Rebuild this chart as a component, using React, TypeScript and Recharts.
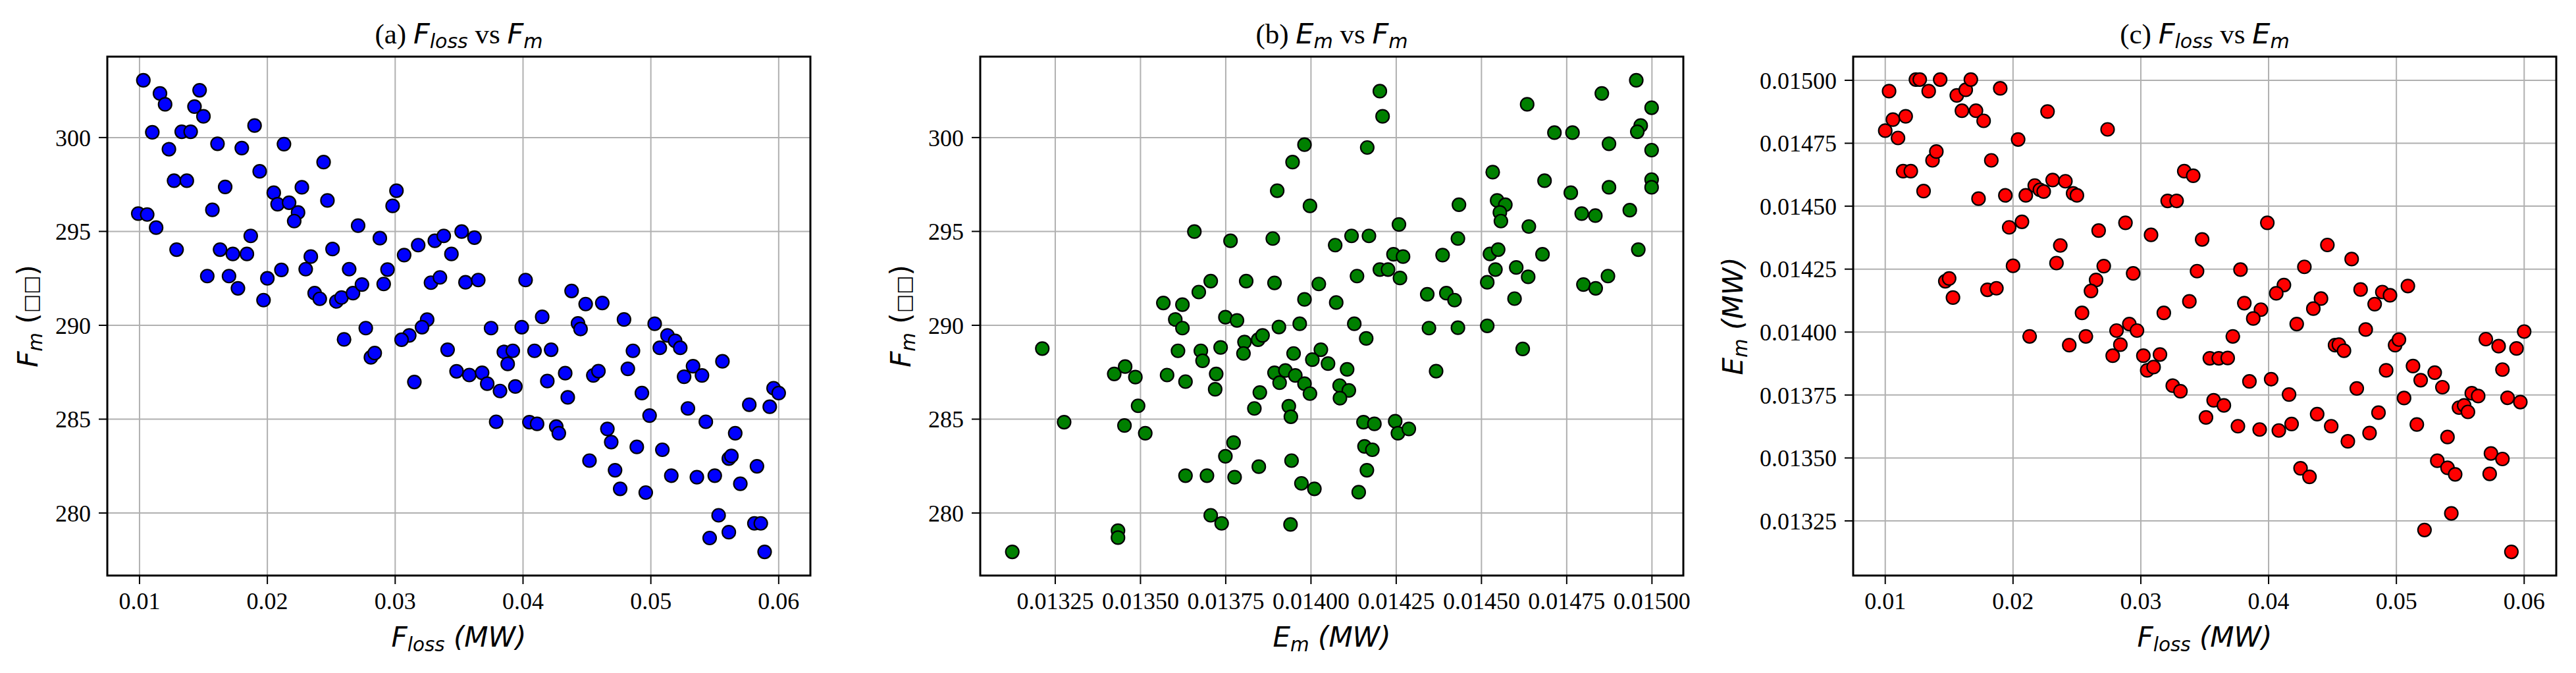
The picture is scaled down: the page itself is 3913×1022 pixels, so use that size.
import React from 'react'
import { ScatterChart, Scatter, XAxis, YAxis, CartesianGrid, ReferenceArea } from 'recharts'

// (a) F_loss vs F_m
const aFloss = [
  0.0103, 0.0116, 0.0120, 0.0147, 0.0143, 0.0150, 0.0110, 0.0133, 0.0140, 0.0123,
  0.0161, 0.0180, 0.0190, 0.0213, 0.0194, 0.0127, 0.0137, 0.0167, 0.0244, 0.0227,
  0.0205, 0.0208, 0.0217, 0.0224, 0.0221, 0.0247, 0.0301, 0.0298, 0.0099, 0.0106,
  0.0113, 0.0157, 0.0187, 0.0271, 0.0288, 0.0129, 0.0163, 0.0173, 0.0184, 0.0234,
  0.0251, 0.0307, 0.0318, 0.0331, 0.0338, 0.0352, 0.0362, 0.0344, 0.0153, 0.0170,
  0.0177, 0.0200, 0.0211, 0.0230, 0.0264, 0.0294, 0.0197, 0.0237, 0.0241, 0.0254,
  0.0258, 0.0267, 0.0274, 0.0291, 0.0328, 0.0335, 0.0355, 0.0365, 0.0402, 0.0438,
  0.0449, 0.0462, 0.0415, 0.0479, 0.0503, 0.0277, 0.0375, 0.0399, 0.0443, 0.0445,
  0.0325, 0.0321, 0.0311, 0.0305, 0.0260, 0.0513, 0.0519, 0.0523, 0.0507, 0.0341,
  0.0281, 0.0284, 0.0385, 0.0392, 0.0388, 0.0409, 0.0422, 0.0486, 0.0482, 0.0556,
  0.0348, 0.0358, 0.0368, 0.0372, 0.0382, 0.0394, 0.0315, 0.0419, 0.0433, 0.0435,
  0.0455, 0.0459, 0.0493, 0.0526, 0.0533, 0.0540, 0.0529, 0.0577, 0.0593, 0.0596,
  0.0600, 0.0379, 0.0405, 0.0411, 0.0426, 0.0428, 0.0499, 0.0543, 0.0466, 0.0469,
  0.0489, 0.0509, 0.0566, 0.0452, 0.0472, 0.0516, 0.0536, 0.0550, 0.0561, 0.0563,
  0.0583, 0.0570, 0.0476, 0.0496, 0.0553, 0.0546, 0.0561, 0.0581, 0.0586, 0.0589,
]
const aFm = [
  303.05, 302.35, 301.77, 302.52, 301.65, 301.13, 300.28, 300.31, 300.31, 299.38,
  299.67, 299.44, 300.64, 299.65, 298.20, 297.70, 297.70, 297.37, 298.69, 297.35,
  297.06, 296.45, 296.53, 296.01, 295.55, 296.65, 297.17, 296.36, 295.95, 295.90,
  295.20, 296.15, 294.76, 295.31, 294.64, 294.03, 294.03, 293.80, 293.80, 293.66,
  294.06, 293.74, 294.27, 294.50, 294.76, 294.99, 294.67, 293.80, 292.62, 292.62,
  291.97, 292.50, 292.95, 292.99, 292.99, 292.97, 291.34, 291.71, 291.41, 291.27,
  291.48, 291.71, 292.17, 292.20, 292.27, 292.55, 292.29, 292.41, 292.41, 291.83,
  291.13, 291.19, 290.45, 290.31, 290.08, 289.85, 289.85, 289.90, 290.10, 289.80,
  290.30, 289.90, 289.46, 289.23, 289.25, 289.46, 289.17, 288.80, 288.80, 288.70,
  288.29, 288.52, 288.58, 288.64, 287.94, 288.64, 288.70, 288.64, 287.68, 288.08,
  287.55, 287.35, 287.47, 286.89, 286.50, 286.74, 286.98, 287.03, 287.45, 286.16,
  287.33, 287.56, 286.39, 287.26, 287.82, 287.33, 285.57, 285.77, 285.66, 286.65,
  286.39, 284.86, 284.84, 284.75, 284.60, 284.25, 285.19, 284.86, 284.48, 283.78,
  283.52, 283.37, 284.25, 282.79, 282.28, 281.99, 281.91, 281.99, 282.90, 283.04,
  282.49, 281.56, 281.29, 281.09, 279.88, 278.67, 278.98, 279.45, 279.45, 277.93,
]

// (b) E_m vs F_m
const bEm = [
  0.014954, 0.014853, 0.014202, 0.014210, 0.014634, 0.014999, 0.014967, 0.014957, 0.014714, 0.014767,
  0.014874, 0.014999, 0.013981, 0.014165, 0.013946, 0.014533, 0.014685, 0.014874, 0.014999, 0.014999,
  0.013901, 0.014762, 0.013997, 0.014434, 0.014546, 0.014570, 0.014554, 0.014557, 0.014794, 0.014834,
  0.014935, 0.014639, 0.014258, 0.013658, 0.013764, 0.013888, 0.014071, 0.014119, 0.014170, 0.014431,
  0.014960, 0.014242, 0.014270, 0.014386, 0.014525, 0.014549, 0.014679, 0.014202, 0.014226, 0.014261,
  0.014135, 0.014541, 0.014602, 0.014637, 0.014517, 0.014871, 0.014799, 0.014835, 0.013706, 0.013810,
  0.013893, 0.014023, 0.013671, 0.013567, 0.013623, 0.013981, 0.014074, 0.014341, 0.014397, 0.014421,
  0.014597, 0.013749, 0.013783, 0.013602, 0.013623, 0.013906, 0.013967, 0.014127, 0.014346, 0.014431,
  0.014517, 0.014162, 0.013212, 0.013610, 0.013677, 0.013682, 0.013735, 0.013805, 0.013802, 0.013845,
  0.013858, 0.013949, 0.014029, 0.014004, 0.014050, 0.014106, 0.014621, 0.014367, 0.013423, 0.013455,
  0.013485, 0.013578, 0.013632, 0.013722, 0.013719, 0.013893, 0.013925, 0.013908, 0.013954, 0.013981,
  0.013997, 0.013850, 0.014084, 0.014111, 0.014085, 0.013493, 0.013834, 0.013935, 0.013941, 0.013276,
  0.013453, 0.013514, 0.014154, 0.014186, 0.014247, 0.014255, 0.014287, 0.013773, 0.013749, 0.014157,
  0.014180, 0.014164, 0.013847, 0.013943, 0.013632, 0.013695, 0.013776, 0.013972, 0.014010, 0.014140,
  0.013706, 0.013738, 0.013940, 0.013434, 0.013434, 0.013124,
]
const bFm = [
  303.05, 302.35, 302.47, 301.13, 301.77, 301.59, 300.64, 300.31, 300.26, 300.26,
  299.67, 299.33, 299.62, 299.47, 298.69, 298.16, 297.70, 297.35, 297.76, 297.35,
  297.17, 297.06, 296.36, 296.42, 296.65, 296.42, 296.01, 295.55, 295.95, 295.84,
  296.13, 295.26, 295.37, 294.99, 294.50, 294.62, 294.27, 294.76, 294.76, 294.62,
  294.03, 293.78, 293.66, 293.74, 293.80, 294.03, 293.78, 292.97, 292.97, 292.52,
  292.62, 292.97, 293.08, 292.58, 292.29, 292.62, 292.17, 291.97, 292.35, 292.35,
  292.26, 292.20, 291.77, 291.19, 291.10, 291.38, 291.21, 291.65, 291.71, 291.34,
  291.42, 290.43, 290.26, 290.31, 289.85, 289.91, 290.08, 290.08, 289.85, 289.87,
  289.97, 289.30, 288.76, 288.64, 288.64, 288.11, 288.82, 289.11, 288.50, 289.23,
  289.46, 288.50, 288.70, 288.17, 287.96, 287.65, 288.74, 287.56, 287.41, 287.80,
  287.24, 287.35, 287.00, 287.41, 286.59, 287.47, 287.59, 286.94, 287.33, 286.89,
  286.36, 286.42, 286.79, 286.53, 286.12, 285.71, 285.57, 285.69, 285.13, 284.84,
  284.66, 284.25, 284.84, 284.75, 284.89, 284.25, 284.48, 283.75, 283.02, 283.55,
  283.37, 282.28, 282.47, 282.79, 281.99, 281.99, 281.91, 281.58, 281.29, 281.11,
  279.88, 279.45, 279.39, 279.06, 278.69, 277.93,
]

// (c) F_loss vs E_m
const cFloss = [
  0.0100, 0.0103, 0.0106, 0.0110, 0.0116, 0.0114, 0.0120, 0.0124, 0.0127, 0.0134,
  0.0143, 0.0137, 0.0140, 0.0130, 0.0156, 0.0163, 0.0167, 0.0160, 0.0171, 0.0177,
  0.0190, 0.0183, 0.0204, 0.0173, 0.0194, 0.0210, 0.0217, 0.0221, 0.0224, 0.0231,
  0.0241, 0.0247, 0.0250, 0.0227, 0.0274, 0.0334, 0.0341, 0.0321, 0.0328, 0.0197,
  0.0207, 0.0288, 0.0267, 0.0308, 0.0348, 0.0399, 0.0446, 0.0237, 0.0200, 0.0234,
  0.0271, 0.0294, 0.0344, 0.0378, 0.0428, 0.0465, 0.0147, 0.0150, 0.0153, 0.0180,
  0.0187, 0.0265, 0.0261, 0.0412, 0.0406, 0.0472, 0.0489, 0.0495, 0.0509, 0.0483,
  0.0441, 0.0381, 0.0338, 0.0394, 0.0435, 0.0388, 0.0254, 0.0318, 0.0422, 0.0291,
  0.0281, 0.0297, 0.0476, 0.0600, 0.0213, 0.0244, 0.0257, 0.0284, 0.0278, 0.0302,
  0.0315, 0.0305, 0.0310, 0.0372, 0.0452, 0.0455, 0.0459, 0.0499, 0.0502, 0.0570,
  0.0580, 0.0594, 0.0354, 0.0361, 0.0368, 0.0492, 0.0513, 0.0530, 0.0519, 0.0536,
  0.0583, 0.0325, 0.0331, 0.0385, 0.0402, 0.0416, 0.0469, 0.0506, 0.0559, 0.0564,
  0.0587, 0.0597, 0.0357, 0.0365, 0.0549, 0.0553, 0.0556, 0.0486, 0.0351, 0.0438,
  0.0376, 0.0393, 0.0408, 0.0418, 0.0449, 0.0479, 0.0462, 0.0516, 0.0540, 0.0574,
  0.0583, 0.0532, 0.0540, 0.0546, 0.0573, 0.0425, 0.0432, 0.0543, 0.0522, 0.0590,
]
const cEm = [
  0.014800, 0.014957, 0.014844, 0.014771, 0.014857, 0.014639, 0.014639, 0.015003, 0.015003, 0.014957,
  0.015003, 0.014682, 0.014717, 0.014560, 0.014940, 0.014962, 0.015003, 0.014879, 0.014879, 0.014839,
  0.014968, 0.014682, 0.014765, 0.014530, 0.014543, 0.014543, 0.014582, 0.014565, 0.014558, 0.014604,
  0.014599, 0.014551, 0.014543, 0.014876, 0.014805, 0.014639, 0.014621, 0.014521, 0.014521, 0.014416,
  0.014438, 0.014434, 0.014403, 0.014386, 0.014368, 0.014434, 0.014346, 0.014344, 0.014263, 0.014274,
  0.014262, 0.014233, 0.014242, 0.014248, 0.014259, 0.014290, 0.014202, 0.014213, 0.014137, 0.014168,
  0.014174, 0.014207, 0.014163, 0.014187, 0.014154, 0.014169, 0.014159, 0.014146, 0.014183, 0.014111,
  0.014133, 0.014115, 0.014122, 0.014089, 0.014093, 0.014054, 0.014076, 0.014076, 0.014032, 0.014032,
  0.014006, 0.014006, 0.014010, 0.014002, 0.013983, 0.013948, 0.013983, 0.013950, 0.013906, 0.013906,
  0.013911, 0.013848, 0.013861, 0.013983, 0.013948, 0.013950, 0.013926, 0.013948, 0.013970, 0.013972,
  0.013944, 0.013935, 0.013896, 0.013896, 0.013897, 0.013848, 0.013865, 0.013839, 0.013809, 0.013781,
  0.013851, 0.013787, 0.013765, 0.013804, 0.013813, 0.013752, 0.013776, 0.013738, 0.013757, 0.013746,
  0.013739, 0.013722, 0.013729, 0.013709, 0.013700, 0.013709, 0.013683, 0.013680, 0.013661, 0.013674,
  0.013626, 0.013613, 0.013609, 0.013635, 0.013626, 0.013599, 0.013566, 0.013633, 0.013583, 0.013518,
  0.013496, 0.013489, 0.013461, 0.013435, 0.013437, 0.013459, 0.013425, 0.013280, 0.013214, 0.013127,
]

const flossTicks = [0.01, 0.02, 0.03, 0.04, 0.05, 0.06]
const fmTicks = [280, 285, 290, 295, 300]
const emTicks = [0.01325, 0.0135, 0.01375, 0.014, 0.01425, 0.0145, 0.01475, 0.015]

const PLOT_TOP = 86
const PLOT_BOTTOM = 874
const PLOT_W = 1068
const AXIS_W = 160
const XAXIS_H = 60
const FIG_H = 1022

const SERIF = 'Liberation Serif, Times New Roman, serif'
const SANS = 'DejaVu Sans, sans-serif'
const tickStyle = { fill: '#000', fontSize: 36, fontFamily: SERIF }

interface PanelProps {
  left: number
  data: { x: number; y: number }[]
  color: string
  xDomain: [number, number]
  yDomain: [number, number]
  xTicks: number[]
  yTicks: number[]
  xFmt: (v: number) => string
  yFmt: (v: number) => string
}

function Panel({ left, data, color, xDomain, yDomain, xTicks, yTicks, xFmt, yFmt }: PanelProps) {
  const width = AXIS_W + PLOT_W + 20
  return (
    <div style={{ position: 'absolute', left: left - AXIS_W, top: 0 }}>
      <ScatterChart
        width={width}
        height={FIG_H}
        margin={{ top: PLOT_TOP, right: 20, bottom: FIG_H - PLOT_BOTTOM - XAXIS_H, left: 0 }}
      >
        <CartesianGrid stroke="#b0b0b0" strokeWidth={2} />
        <XAxis
          type="number"
          dataKey="x"
          domain={xDomain}
          ticks={xTicks}
          tickFormatter={xFmt}
          allowDataOverflow
          height={XAXIS_H}
          axisLine={false}
          tickLine={{ stroke: '#000', strokeWidth: 2 }}
          tickSize={13}
          tickMargin={12}
          tick={tickStyle}
          interval={0}
        />
        <YAxis
          type="number"
          dataKey="y"
          domain={yDomain}
          ticks={yTicks}
          tickFormatter={yFmt}
          allowDataOverflow
          width={AXIS_W}
          axisLine={false}
          tickLine={{ stroke: '#000', strokeWidth: 2 }}
          tickSize={13}
          tickMargin={12}
          tick={tickStyle}
          interval={0}
        />
        <ReferenceArea
          x1={xDomain[0]}
          x2={xDomain[1]}
          y1={yDomain[0]}
          y2={yDomain[1]}
          fill="none"
          stroke="#000"
          strokeWidth={3}
          ifOverflow="visible"
        />
        <Scatter
          data={data}
          isAnimationActive={false}
          shape={(p: any) => (
            <circle cx={p.cx} cy={p.cy} r={10} fill={color} stroke="#000" strokeWidth={2.2} />
          )}
        />
      </ScatterChart>
    </div>
  )
}

const PANEL_LEFT = [163, 1489, 2815]
const centerX = (i: number) => PANEL_LEFT[i] + PLOT_W / 2
const PLOT_MID_Y = (PLOT_TOP + PLOT_BOTTOM) / 2

// italic sans symbol with a subscript, the way mathtext draws it; `after` comes back to the baseline
function MathVar({ base, sub, size, after, afterFont, afterItalic }: {
  base: string; sub: string; size: number; after: string; afterFont: string; afterItalic?: boolean
}) {
  const shift = Math.round(size * 0.16)
  return (
    <>
      <tspan fontFamily={SANS} fontStyle="italic">{base}</tspan>
      <tspan fontFamily={SANS} fontStyle="italic" fontSize={size * 0.7} dy={shift}>{sub}</tspan>
      <tspan fontFamily={afterFont} fontStyle={afterItalic ? 'italic' : 'normal'} dy={-shift}>{after}</tspan>
    </>
  )
}

export default function App() {
  const aData = aFloss.map((x, i) => ({ x, y: aFm[i] }))
  const bData = bEm.map((x, i) => ({ x, y: bFm[i] }))
  const cData = cFloss.map((x, i) => ({ x, y: cEm[i] }))
  const TS = 43
  const LS = 42

  return (
    <div style={{ position: 'absolute', left: 0, top: 0, width: 3913, height: FIG_H, background: '#fff', overflow: 'hidden' }}>
      <Panel
        left={PANEL_LEFT[0]}
        data={aData}
        color="#0000ff"
        xDomain={[0.00748, 0.06248]}
        yDomain={[276.67, 304.31]}
        xTicks={flossTicks}
        yTicks={fmTicks}
        xFmt={(v) => v.toFixed(2)}
        yFmt={(v) => String(v)}
      />
      <Panel
        left={PANEL_LEFT[1]}
        data={bData}
        color="#008000"
        xDomain={[0.01303, 0.015092]}
        yDomain={[276.67, 304.31]}
        xTicks={emTicks}
        yTicks={fmTicks}
        xFmt={(v) => v.toFixed(5)}
        yFmt={(v) => String(v)}
      />
      <Panel
        left={PANEL_LEFT[2]}
        data={cData}
        color="#ff0000"
        xDomain={[0.00749, 0.06251]}
        yDomain={[0.013033, 0.015094]}
        xTicks={flossTicks}
        yTicks={emTicks}
        xFmt={(v) => v.toFixed(2)}
        yFmt={(v) => v.toFixed(5)}
      />
      <svg width={3913} height={FIG_H} style={{ position: 'absolute', left: 0, top: 0, pointerEvents: 'none' }}>
        <g fill="#000" style={{ whiteSpace: 'pre' }}>
          {/* titles */}
          <text x={centerX(0)} y={66} textAnchor="middle" fontSize={TS} fontFamily={SERIF}>
            <tspan>(a) </tspan>
            <MathVar base="F" sub="loss" size={TS} after=" vs " afterFont={SERIF} />
            <MathVar base="F" sub="m" size={TS} after="" afterFont={SERIF} />
          </text>
          <text x={centerX(1)} y={66} textAnchor="middle" fontSize={TS} fontFamily={SERIF}>
            <tspan>(b) </tspan>
            <MathVar base="E" sub="m" size={TS} after=" vs " afterFont={SERIF} />
            <MathVar base="F" sub="m" size={TS} after="" afterFont={SERIF} />
          </text>
          <text x={centerX(2)} y={66} textAnchor="middle" fontSize={TS} fontFamily={SERIF}>
            <tspan>(c) </tspan>
            <MathVar base="F" sub="loss" size={TS} after=" vs " afterFont={SERIF} />
            <MathVar base="E" sub="m" size={TS} after="" afterFont={SERIF} />
          </text>

          {/* x labels */}
          <text x={centerX(0)} y={982} textAnchor="middle" fontSize={LS}>
            <MathVar base="F" sub="loss" size={LS} after=" (MW)" afterFont={SANS} afterItalic />
          </text>
          <text x={centerX(1)} y={982} textAnchor="middle" fontSize={LS}>
            <MathVar base="E" sub="m" size={LS} after=" (MW)" afterFont={SANS} afterItalic />
          </text>
          <text x={centerX(2)} y={982} textAnchor="middle" fontSize={LS}>
            <MathVar base="F" sub="loss" size={LS} after=" (MW)" afterFont={SANS} afterItalic />
          </text>

          {/* y labels */}
          <text transform={`translate(${PANEL_LEFT[0] - 106},${PLOT_MID_Y}) rotate(-90)`} textAnchor="middle" fontSize={LS}>
            <MathVar base="F" sub="m" size={LS} after=" (" afterFont={SANS} />
            <tspan fontFamily={SANS} fontSize={30}>□□</tspan>
            <tspan fontFamily={SANS}>)</tspan>
          </text>
          <text transform={`translate(${PANEL_LEFT[1] - 106},${PLOT_MID_Y}) rotate(-90)`} textAnchor="middle" fontSize={LS}>
            <MathVar base="F" sub="m" size={LS} after=" (" afterFont={SANS} />
            <tspan fontFamily={SANS} fontSize={30}>□□</tspan>
            <tspan fontFamily={SANS}>)</tspan>
          </text>
          <text transform={`translate(${PANEL_LEFT[2] - 168},${PLOT_MID_Y}) rotate(-90)`} textAnchor="middle" fontSize={LS}>
            <MathVar base="E" sub="m" size={LS} after=" (MW)" afterFont={SANS} afterItalic />
          </text>
        </g>
      </svg>
    </div>
  )
}
